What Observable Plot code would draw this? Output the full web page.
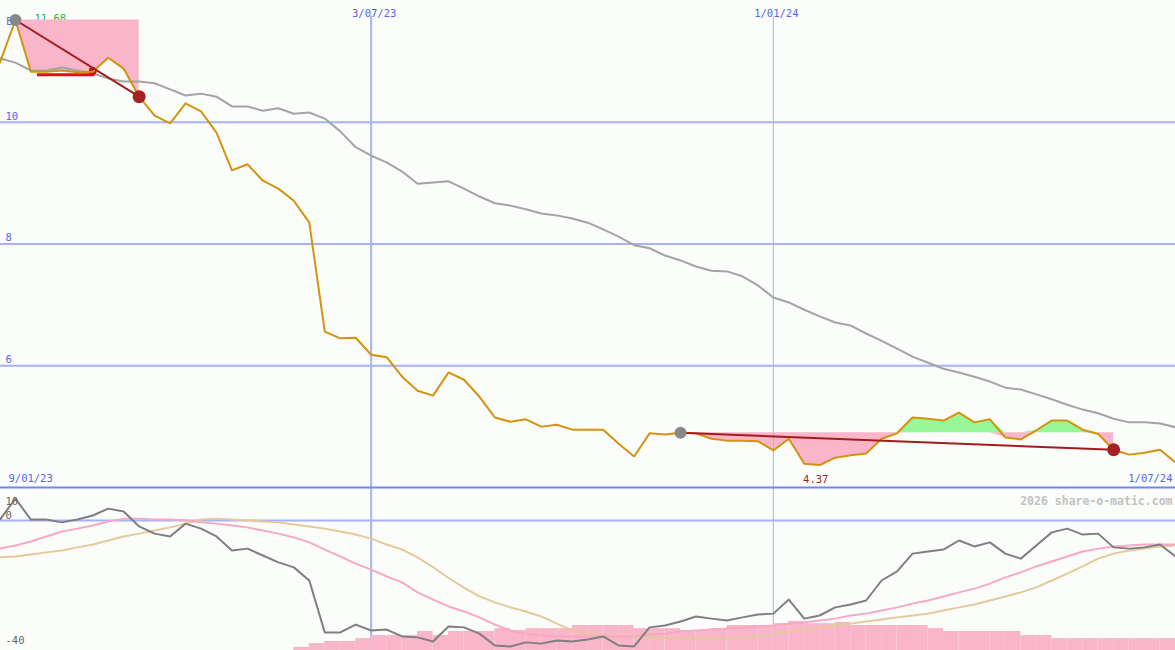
<!DOCTYPE html>
<html><head><meta charset="utf-8">
<script src="https://cdn.jsdelivr.net/npm/d3@7"></script>
<script src="https://cdn.jsdelivr.net/npm/@observablehq/plot@0.6"></script>
<style>
html,body{margin:0;padding:0;background:#fbfdfb;}
#chart{position:relative;width:1175px;height:650px;overflow:hidden;}
#chart svg{display:block;}
</style></head><body><div id="chart"></div>
<script>
// ---- data (weekly) ----
const dates = [
"2023-01-16","2023-01-23","2023-01-30","2023-02-06","2023-02-13","2023-02-20","2023-02-27","2023-03-06","2023-03-13","2023-03-20",
"2023-03-27","2023-04-03","2023-04-10","2023-04-17","2023-04-24","2023-05-01","2023-05-08","2023-05-15","2023-05-22","2023-05-29",
"2023-06-05","2023-06-12","2023-06-19","2023-06-26","2023-07-03","2023-07-10","2023-07-17","2023-07-24","2023-07-31","2023-08-07",
"2023-08-14","2023-08-21","2023-08-28","2023-09-04","2023-09-11","2023-09-18","2023-09-25","2023-10-02","2023-10-09","2023-10-16",
"2023-10-23","2023-10-30","2023-11-06","2023-11-13","2023-11-20","2023-11-27","2023-12-04","2023-12-11","2023-12-18","2023-12-25",
"2024-01-01","2024-01-08","2024-01-15","2024-01-22","2024-01-29","2024-02-05","2024-02-12","2024-02-19","2024-02-26","2024-03-04",
"2024-03-11","2024-03-18","2024-03-25","2024-04-01","2024-04-08","2024-04-15","2024-04-22","2024-04-29","2024-05-06","2024-05-13",
"2024-05-20","2024-05-27","2024-06-03","2024-06-10","2024-06-17","2024-06-24","2024-07-01"];

const price = [
10.98,11.68,10.83,10.83,10.85,10.82,10.83,11.06,10.88,10.42,
10.11,9.98,10.31,10.18,9.83,9.21,9.31,9.04,8.91,8.71,
8.35,6.56,6.45,6.46,6.18,6.14,5.82,5.59,5.51,5.89,
5.77,5.49,5.15,5.08,5.12,5.00,5.03,4.95,4.95,4.95,
4.72,4.51,4.89,4.87,4.90,4.89,4.80,4.77,4.77,4.76,
4.61,4.80,4.39,4.37,4.49,4.53,4.56,4.80,4.89,5.15,
5.13,5.10,5.23,5.07,5.12,4.82,4.79,4.94,5.10,5.10,
4.95,4.88,4.62,4.54,4.57,4.62,4.41];

const movingAvg = [
11.05,10.98,10.85,10.85,10.90,10.85,10.80,10.72,10.67,10.67,
10.64,10.54,10.44,10.47,10.42,10.26,10.26,10.19,10.23,10.14,
10.16,10.06,9.85,9.59,9.45,9.34,9.19,8.99,9.01,9.03,
8.91,8.78,8.67,8.63,8.57,8.50,8.47,8.42,8.35,8.24,
8.12,7.98,7.93,7.81,7.73,7.63,7.56,7.55,7.47,7.32,
7.12,7.04,6.92,6.81,6.71,6.66,6.53,6.41,6.28,6.15,
6.05,5.95,5.89,5.82,5.74,5.64,5.61,5.53,5.45,5.36,
5.28,5.22,5.13,5.07,5.07,5.05,4.99];

const oscillator = [
0.3,7.0,0.3,0.3,-0.6,0.3,1.6,3.8,2.9,-1.9,
-4.2,-5.1,-1.0,-2.6,-5.1,-9.6,-9.0,-11.2,-13.4,-15.0,
-19.2,-35.8,-35.8,-33.3,-35.2,-34.9,-37.1,-37.4,-38.7,-33.9,
-34.2,-36.2,-40.0,-40.3,-39.0,-39.4,-38.4,-38.7,-38.1,-37.1,
-40.0,-40.3,-34.2,-33.6,-32.3,-30.7,-31.4,-32.0,-31.0,-30.1,
-29.8,-25.3,-31.4,-30.4,-27.8,-26.9,-25.6,-19.2,-16.3,-10.6,
-9.9,-9.3,-6.4,-8.3,-7.0,-10.6,-12.2,-8.0,-3.8,-2.6,
-4.5,-4.2,-8.6,-9.0,-8.6,-7.7,-11.5];

const fastSignal = [
-9.0,-8.0,-6.7,-5.1,-3.5,-2.6,-1.6,-0.3,0.6,0.6,
0.3,0.3,0.0,-0.6,-1.0,-1.6,-2.2,-3.2,-4.2,-5.4,
-7.0,-9.3,-11.5,-13.8,-15.7,-17.9,-19.8,-23.0,-25.3,-27.5,
-29.1,-31.0,-33.3,-35.2,-36.2,-36.8,-37.1,-37.1,-37.1,-37.1,
-37.1,-37.1,-36.5,-36.2,-35.5,-35.2,-34.9,-34.6,-34.2,-33.9,
-33.6,-33.0,-32.6,-32.0,-31.4,-30.4,-29.8,-28.8,-27.8,-26.6,
-25.6,-24.3,-23.0,-21.8,-20.2,-18.2,-16.6,-14.7,-13.1,-11.5,
-9.9,-9.0,-8.3,-8.0,-7.7,-7.7,-7.7];

const slowSignal = [
-11.8,-11.5,-10.9,-10.2,-9.6,-8.6,-7.7,-6.4,-5.1,-4.2,
-3.2,-2.2,-1.0,0.3,0.6,0.3,0.0,-0.3,-0.6,-1.3,
-1.9,-2.6,-3.5,-4.5,-5.8,-7.7,-9.3,-11.8,-14.9,-18.4,
-21.5,-24.3,-26.2,-27.8,-29.1,-30.7,-33.0,-35.2,-36.2,-36.8,
-37.1,-37.4,-37.4,-37.4,-37.8,-37.8,-37.8,-37.8,-37.4,-37.1,
-36.5,-35.5,-34.9,-34.2,-33.6,-33.0,-32.3,-31.7,-31.0,-30.4,
-29.8,-28.8,-27.8,-26.9,-25.6,-24.3,-23.0,-21.4,-19.2,-17.0,
-14.7,-12.2,-10.6,-9.6,-9.0,-8.3,-8.0];

const histogram = [
null,null,null,null,null,null,null,null,null,null,
null,null,null,null,null,null,null,null,null,-40.6,
-39.4,-38.7,-38.7,-37.8,-36.8,-36.8,-36.8,-35.5,-36.8,-35.5,
-35.5,-35.5,-34.6,-35.2,-34.6,-34.6,-34.6,-33.6,-33.6,-33.6,
-33.6,-34.6,-34.6,-34.6,-35.2,-35.2,-34.6,-33.6,-33.6,-33.6,
-33.0,-32.3,-33.0,-33.0,-32.6,-33.6,-33.6,-33.6,-33.6,-33.6,
-34.6,-35.5,-35.5,-35.5,-35.5,-35.5,-36.8,-36.8,-37.8,-37.8,
-37.8,-37.8,-37.8,-37.8,-37.8,-37.8,null];

// signals (buy point -> sell point)
const buyDates = ["2023-01-23","2023-11-20"];
const buyValues = [11.68, 4.90];
const sellDates = ["2023-03-20","2024-06-03"];
const sellValues = [10.42, 4.62];
const buyLabels = ["B", ""];

// stop marker in first signal
const stopStart = "2023-02-02", stopEnd = "2023-02-28", stopValue = 10.78;
const stopDotDate = "2023-02-27", stopDotValue = 10.84;

// low annotation
const lowDate = "2024-01-22", lowValue = 4.37;

// axes
const priceTicks = [10, 8, 6];
const priceFloor = 4;
const oscTicks = [0, -40];
const oscTopLabel = "10";
const dateMarks = ["2023-07-03", "2024-01-01"];
const dateMarkLabels = ["3/07/23", "1/01/24"];
const dateMarkWidths = [2, 1];
const startLabel = "9/01/23", endLabel = "1/07/24";
const credit = "2026 share-o-matic.com";

// ---- build ----
const FONT = "'DejaVu Sans Mono', monospace";
const BLUE = "#5566ee", GRID = "#a6b2f4", PINK = "#f9b5c9", GREEN = "#98f898";
const rows = dates.map((d, i) => ({
  date: new Date(d), next: i + 1 < dates.length ? new Date(dates[i + 1]) : null,
  price: price[i], ma: movingAvg[i], osc: oscillator[i],
  fast: fastSignal[i], slow: slowSignal[i], hist: histogram[i]
}));
const signals = buyDates.map((d, i) => ({
  buyDate: new Date(d), buyValue: buyValues[i],
  sellDate: new Date(sellDates[i]), sellValue: sellValues[i], label: buyLabels[i]
}));
const marks = dateMarks.map((d, i) => ({date: new Date(d), label: dateMarkLabels[i], w: dateMarkWidths[i]}));

const xDomain = [new Date("2023-01-16T06:00:00Z"), new Date("2024-07-01T00:00:00Z")];

const fillMarks = [];
signals.forEach(s => {
  const seg = rows.filter(r => r.date >= s.buyDate && r.date <= s.sellDate);
  fillMarks.push(Plot.areaY(seg, {x: "date", y1: () => s.buyValue, y2: r => Math.min(r.price, s.buyValue), fill: PINK}));
  fillMarks.push(Plot.areaY(seg, {x: "date", y1: () => s.buyValue, y2: r => Math.max(r.price, s.buyValue), fill: GREEN}));
});

const upper = Plot.plot({
  width: 1175, height: 489,
  marginTop: 0, marginRight: 0, marginLeft: 0, marginBottom: 2,
  x: {type: "utc", domain: xDomain, axis: null},
  y: {domain: [4, 12], axis: null},
  style: {background: "transparent", fontFamily: FONT},
  marks: [
    Plot.ruleY(priceTicks, {stroke: GRID, strokeWidth: 2}),
    Plot.text(signals.filter(s => s.label), {x: "buyDate", y: "buyValue", text: "label", dx: -6, dy: 2, fill: BLUE, fontSize: 10.5, fontFamily: FONT}),
    Plot.text(signals.filter(s => s.label), {x: "buyDate", y: "buyValue", text: s => s.buyValue.toFixed(2), dx: 19, dy: -1.5, textAnchor: "start", fill: "#33b033", fontSize: 10.5, fontFamily: FONT}),
    ...fillMarks,
    Plot.ruleX(marks, {x: "date", y1: 11.74, y2: 3.96, stroke: GRID, strokeWidth: "w"}),
    Plot.ruleY([priceFloor], {stroke: "#7585f0", strokeWidth: 2}),
    Plot.line(rows, {x: "date", y: "ma", stroke: "#a4a4a4", strokeWidth: 2}),
    Plot.ruleY([stopValue], {y: d => d, x1: () => new Date(stopStart), x2: () => new Date(stopEnd), stroke: "#dd1111", strokeWidth: 3}),
    Plot.dot([stopDotValue], {x: () => new Date(stopDotDate), y: d => d, r: 4, fill: "#cc1111"}),
    Plot.line(rows, {x: "date", y: "price", stroke: "#d6920e", strokeWidth: 2}),
    Plot.link(signals, {x1: "buyDate", y1: "buyValue", x2: "sellDate", y2: "sellValue", stroke: "#a31c1c", strokeWidth: 2}),
    Plot.dot(signals, {x: "buyDate", y: "buyValue", r: 6, fill: "#888888"}),
    Plot.dot(signals, {x: "sellDate", y: "sellValue", r: 6.5, fill: "#a52222"}),
    Plot.text([lowValue], {x: () => new Date(lowDate), y: d => d, text: d => d.toFixed(2), dx: -4, dy: 15, fill: "#a31c1c", fontSize: 10.5, fontFamily: FONT}),
    Plot.text(priceTicks, {y: d => d, text: d => String(d), frameAnchor: "left", textAnchor: "start", dx: 5, dy: -6, fill: BLUE, fontSize: 10.5, fontFamily: FONT}),
    Plot.text(marks, {x: "date", text: "label", frameAnchor: "top", dx: 3, dy: 9, fill: BLUE, fontSize: 10.5, fontFamily: FONT}),
    Plot.text([startLabel], {text: d => d, frameAnchor: "bottom-left", textAnchor: "start", dx: 8, dy: -6, fill: BLUE, fontSize: 10.5, fontFamily: FONT}),
    Plot.text([endLabel], {text: d => d, frameAnchor: "bottom-right", textAnchor: "end", dx: -3, dy: -6, fill: BLUE, fontSize: 10.5, fontFamily: FONT})
  ]
});

const oscDomain = [-41.6, 9.92];
const lower = Plot.plot({
  width: 1175, height: 161,
  marginTop: 0, marginRight: 0, marginLeft: 0, marginBottom: 0,
  x: {type: "utc", domain: xDomain, axis: null},
  y: {domain: oscDomain, axis: null},
  style: {background: "transparent", fontFamily: FONT},
  marks: [
    Plot.ruleY([0], {stroke: GRID, strokeWidth: 2}),
    Plot.ruleX(marks, {x: "date", stroke: GRID, strokeWidth: "w"}),
    Plot.rect(rows.filter(r => r.hist != null && r.next), {x1: "date", x2: "next", y1: () => oscDomain[0], y2: "hist", fill: PINK}),
    Plot.line(rows, {x: "date", y: "slow", stroke: "#e6c99a", strokeWidth: 2}),
    Plot.line(rows, {x: "date", y: "fast", stroke: "#f7a8c2", strokeWidth: 2}),
    Plot.line(rows, {x: "date", y: "osc", stroke: "#7f7f7f", strokeWidth: 2}),
    Plot.text([oscTopLabel], {text: d => d, frameAnchor: "top-left", textAnchor: "start", dx: 5, dy: 8, fill: "#666", fontSize: 10.5, fontFamily: FONT}),
    Plot.text(oscTicks, {y: d => d, text: d => String(d), frameAnchor: "left", textAnchor: "start", dx: 5, dy: -5, fill: "#666", fontSize: 10.5, fontFamily: FONT}),
    Plot.text([credit], {text: d => d, frameAnchor: "top-right", textAnchor: "end", dx: -3, dy: 7, fill: "#c2c2c2", fontWeight: "bold", fontSize: 11.5, fontFamily: FONT})
  ]
});

const host = document.getElementById("chart");
host.appendChild(upper);
host.appendChild(lower);
</script></body></html>
